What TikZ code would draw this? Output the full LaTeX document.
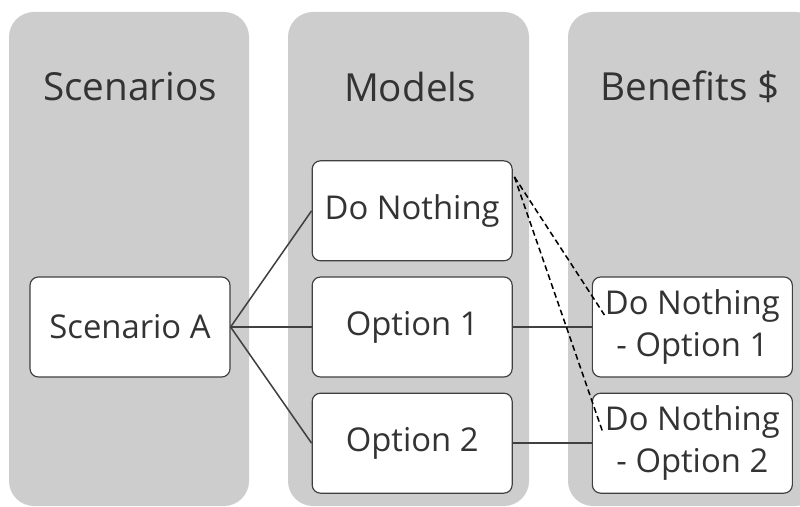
\documentclass[tikz,border=0pt]{standalone}
\usepackage{fontspec}
\setmainfont{Open Sans}
\usetikzlibrary{positioning,calc}
\definecolor{colgrey}{RGB}{205,205,205}
\definecolor{boxline}{RGB}{64,64,64}
\definecolor{txtgrey}{RGB}{51,51,51}
\tikzstyle{column} = [fill=colgrey, rounded corners=0.75cm]
\tikzstyle{box} = [rectangle, rounded corners=0.25cm, minimum width=6cm, minimum height=3cm, text centered, align=center, draw=boxline, fill=white, line width=1pt, text=txtgrey, font=\fontsize{28}{36}\selectfont]
\tikzstyle{heading} = [text=txtgrey, font=\fontsize{33}{40}\selectfont]
\tikzstyle{link} = [line width=1.3pt, color=boxline]
\tikzstyle{diff} = [line width=1.3pt, dash pattern=on 5pt off 3pt, color=black]

\begin{document}
\begin{tikzpicture}
\clip (0,0) rectangle (24,15.18);
% grey columns
\fill[column] (0.27,0) rectangle (7.47,14.82);
\fill[column] (8.64,0) rectangle (15.87,14.82);
\fill[column] (17.04,0) rectangle (24.6,14.82);
\node (hscen) [heading] at (3.9,12.57) {Scenarios};
\node (hmod) [heading] at (12.3,12.57) {Models};
\node (hben) [heading] at (20.7,12.57) {Benefits \$};

% scenario and models
\node (scen) [box] at (3.9,5.37) {Scenario A};
\node (opt1) [box, right=2.43cm of scen] {Option 1};
\node (dn) [box, above=0.45cm of opt1] {Do Nothing};
\node (opt2) [box, below=0.45cm of opt1] {Option 2};

% benefits
\node (ben1) [box, right=2.37cm of opt1] {Do Nothing\\- Option 1};
\node (ben2) [box, right=2.37cm of opt2] {Do Nothing\\- Option 2};

\draw[link] (scen.east) -- (dn.west);
\draw[link] (scen.east) -- (opt1.west);
\draw[link] (scen.east) -- (opt2.west);
\draw[link] (opt1.east) -- (ben1.west);
\draw[link] (opt2.east) -- (ben2.west);

% differences against doing nothing
\coordinate (dnc) at ($(dn.north east)+(0.05,-0.5)$);
\coordinate (d1) at ($(ben1.west)+(0.38,0.36)$);
\coordinate (d2) at ($(ben2.west)+(0.33,0.33)$);
\draw[diff] (dnc) -- (d1);
\draw[diff] (dnc) -- (d2);
\end{tikzpicture}
\end{document}
